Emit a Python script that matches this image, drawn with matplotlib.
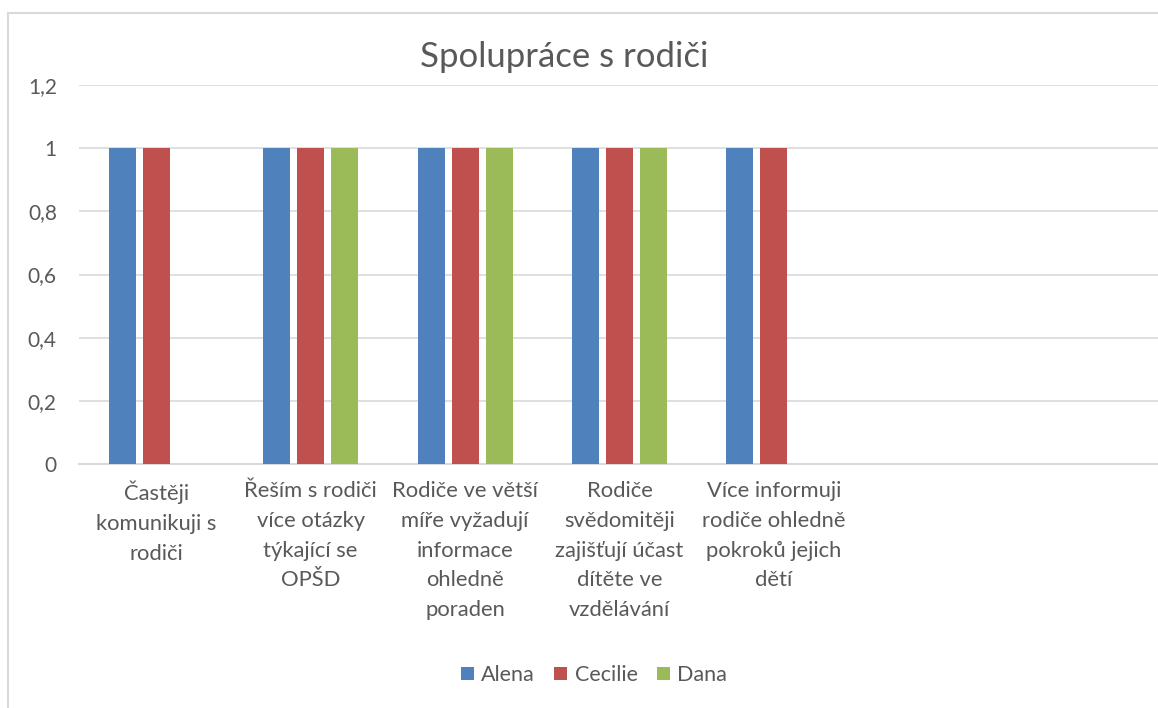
import matplotlib.pyplot as plt
from matplotlib.patches import Rectangle
import numpy as np

plt.rcParams['font.family'] = ['Lato', 'DejaVu Sans']

# data
categories = [
    "Častěji\nkomunikuji s\nrodiči",
    "Řeším s rodiči\nvíce otázky\ntýkající se\nOPŠD",
    "Rodiče ve větší\nmíře vyžadují\ninformace\nohledně\nporaden",
    "Rodiče\nsvědomitěji\nzajišťují účast\ndítěte ve\nvzdělávání",
    "Více informuji\nrodiče ohledně\npokroků jejich\ndětí",
    "",
    "",
]
alena = [1, 1, 1, 1, 1, 0, 0]
cecilie = [1, 1, 1, 1, 1, 0, 0]
dana = [0, 1, 1, 1, 0, 0, 0]
series = {"Alena": alena, "Cecilie": cecilie, "Dana": dana}
colors = ["#4F81BD", "#C0504D", "#9BBB59"]
yticks = [0, 0.2, 0.4, 0.6, 0.8, 1, 1.2]

text_col = "#595959"
grid_col = "#D9D9D9"

fig = plt.figure(figsize=(11.58, 7.08), dpi=100)

# chart frame (cropped at the right and bottom)
fig.patches.append(Rectangle((8 / 1158, -0.05), 1.2, 1 - 13 / 708 + 0.05,
                             transform=fig.transFigure, fill=False,
                             edgecolor=grid_col, linewidth=1.5))

ax = fig.add_axes([79 / 1158, 1 - 464 / 708, 1081 / 1158, 379 / 708])

x = np.arange(len(categories))
width = 0.175
step = 0.22
for i, (name, vals) in enumerate(series.items()):
    ax.bar(x + (i - 1) * step, vals, width, color=colors[i], label=name, zorder=3)

ax.set_xlim(-0.5, len(categories) - 0.5)
ax.set_ylim(0, 1.2)
ax.set_yticks(yticks)
ax.set_yticklabels([f"{t:g}".replace(".", ",") for t in yticks])
ax.set_xticks(x)
ax.set_xticklabels(categories, linespacing=1.62)

ax.tick_params(axis='y', length=0, pad=16, labelsize=15, labelcolor=text_col)
ax.tick_params(axis='x', length=0, pad=12, labelsize=15.8, labelcolor=text_col)
for lbl in ax.get_yticklabels():
    lbl.set_horizontalalignment('right')

ax.grid(axis='y', color=grid_col, linewidth=1.2, zorder=0)
for s in ['top', 'right', 'left']:
    ax.spines[s].set_visible(False)
ax.spines['bottom'].set_color(grid_col)
ax.spines['bottom'].set_linewidth(1.5)

fig.text(564 / 1158, 1 - 57 / 708, "Spolupráce s rodiči", ha='center', va='center',
         fontsize=25, color=text_col)

fig.legend(loc='center', bbox_to_anchor=(594 / 1158, 1 - 675 / 708), ncol=3,
           frameon=False, fontsize=15.5, labelcolor=text_col,
           handlelength=0.6, handleheight=0.6, handletextpad=0.35,
           columnspacing=0.9)

fig.savefig("out.png", dpi=100)
